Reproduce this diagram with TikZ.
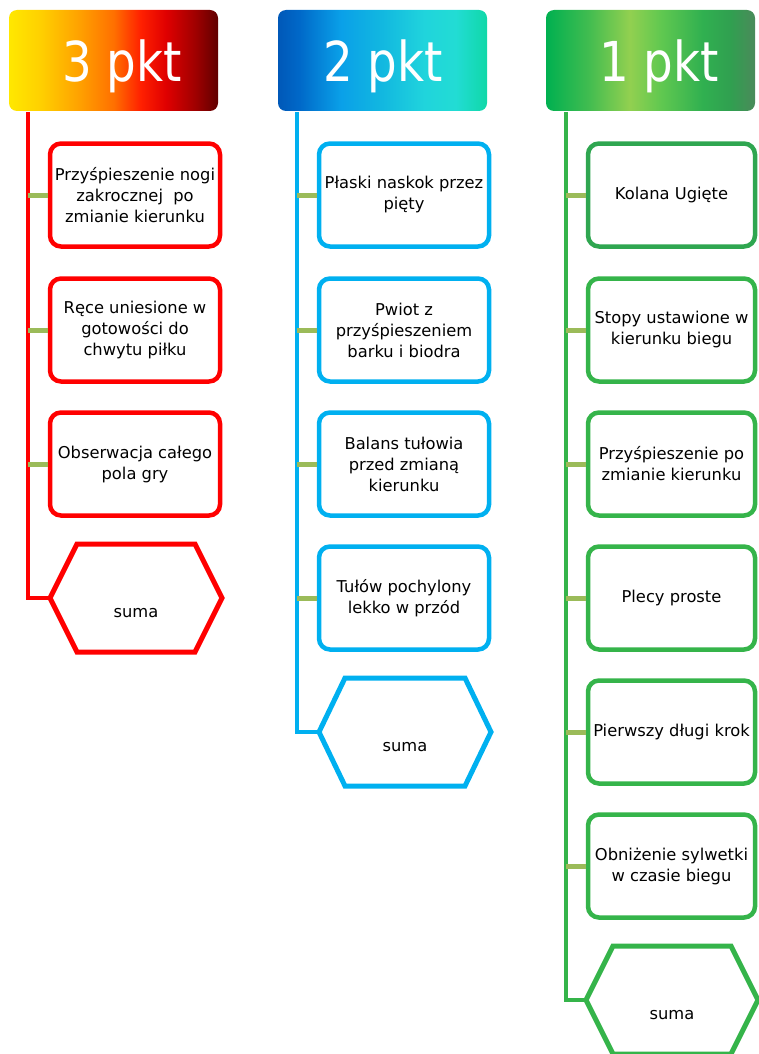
\documentclass[tikz,border=0pt]{standalone}
\usepackage{fontspec}
\setmainfont{DejaVu Sans}
\newfontfamily\headfont[FakeStretch=0.85]{DejaVu Sans}
\usetikzlibrary{calc}
\definecolor{cred}{HTML}{FF0000}
\definecolor{cblue}{HTML}{00B0F0}
\definecolor{cgreen}{HTML}{35B44A}
\definecolor{cgreendk}{HTML}{2FA650}
\definecolor{cconn}{HTML}{9BBB59}
% red header stops
\definecolor{ra}{HTML}{FFE800}
\definecolor{rb}{HTML}{FFD000}
\definecolor{rc}{HTML}{FFA000}
\definecolor{rd}{HTML}{FF7000}
\definecolor{re}{HTML}{FF2000}
\definecolor{rf}{HTML}{E00000}
\definecolor{rg}{HTML}{A00000}
\definecolor{rh}{HTML}{600000}
% blue header stops
\definecolor{ba}{HTML}{0058B8}
\definecolor{bb}{HTML}{0068C8}
\definecolor{bc}{HTML}{0AA0E8}
\definecolor{bd}{HTML}{12B8E0}
\definecolor{be}{HTML}{20D4DC}
\definecolor{bf}{HTML}{22DCD4}
\definecolor{bg}{HTML}{10D8A8}
% green header stops
\definecolor{ga}{HTML}{00B050}
\definecolor{gb}{HTML}{40BC50}
\definecolor{gc}{HTML}{92D050}
\definecolor{gd}{HTML}{60C850}
\definecolor{ge}{HTML}{30B050}
\definecolor{gf}{HTML}{30A050}
\definecolor{gg}{HTML}{4A8A5A}
\pgfdeclarehorizontalshading{gradred}{100bp}{color(0bp)=(ra); color(25bp)=(ra); color(32.5bp)=(rb); color(42bp)=(rc); color(50bp)=(rd); color(56.5bp)=(re); color(62.5bp)=(rf); color(69.5bp)=(rg); color(75bp)=(rh); color(100bp)=(rh)}
\pgfdeclarehorizontalshading{gradblue}{100bp}{color(0bp)=(ba); color(25bp)=(ba); color(30bp)=(bb); color(40bp)=(bc); color(50bp)=(bd); color(60bp)=(be); color(67.5bp)=(bf); color(75bp)=(bg); color(100bp)=(bg)}
\pgfdeclarehorizontalshading{gradgreen}{100bp}{color(0bp)=(ga); color(25bp)=(ga); color(35bp)=(gb); color(45bp)=(gc); color(52.5bp)=(gd); color(62.5bp)=(ge); color(69bp)=(gf); color(75bp)=(gg); color(100bp)=(gg)}
\tikzset{
  hdr/.style={rounded corners=8pt, minimum width=209pt, minimum height=101pt, inner sep=0pt, shade, shading=#1},
  hdrtext/.style={anchor=base, text=white, inner sep=0pt, font=\headfont\fontsize{55}{60}\selectfont},
  itembox/.style={draw=#1, line width=4.5pt, rounded corners=11pt, fill=white, minimum width=170pt, minimum height=103pt, align=center, inner sep=0pt, font=\fontsize{16.3}{21}\selectfont},
  vline/.style={draw=#1, line width=4.5pt},
  conn/.style={draw=cconn, line width=5pt},
  hexline/.style={draw=#1, line width=5pt, fill=white, line join=miter},
  sumtext/.style={inner sep=0pt, font=\fontsize{16.3}{21}\selectfont}
}
\begin{document}
\begin{tikzpicture}[x=1pt,y=-1pt]
\useasboundingbox (0,0) rectangle (758,1054);
% ---------- headers
\node[hdr=gradred] (h1) at (113.5,60.5) {};
\node[hdr=gradblue] (h2) at (382.5,60.5) {};
\node[hdr=gradgreen] (h3) at (650.5,60.5) {};
\node[hdrtext] (t1) at (122,82) {3 pkt};
\node[hdrtext] (t2) at (383,82) {2 pkt};
\node[hdrtext] (t3) at (659,82) {1 pkt};
% ---------- coordinates
\coordinate (v1) at (28,112);
\coordinate (v2) at (297,112);
\coordinate (v3) at (566,112);
\coordinate (s1c) at (136,598);
\coordinate (s2c) at (405,732);
\coordinate (s3c) at (672,1000);
\coordinate (s1w) at ($(s1c)+(-86,0)$);
\coordinate (s2w) at ($(s2c)+(-86,0)$);
\coordinate (s3w) at ($(s3c)+(-86,0)$);
% ---------- vertical lines
\draw[vline=cred] (v1) |- (s1w);
\draw[vline=cblue] (v2) |- (s2w);
\draw[vline=cgreen] (v3) |- (s3w);
% ---------- boxes column 1
\node[itembox=cred] (a1) at (135,195) {Przyśpieszenie nogi\\zakrocznej\ \ po\\zmianie kierunku};
\node[itembox=cred] (a2) at (135,330) {Ręce uniesione w\\gotowości do\\chwytu piłku};
\node[itembox=cred] (a3) at (135,464) {Obserwacja całego\\pola gry};
% ---------- boxes column 2
\node[itembox=cblue] (b1) at (404,195) {Płaski naskok przez\\pięty};
\node[itembox=cblue] (b2) at (404,330) {Pwiot z\\przyśpieszeniem\\barku i biodra};
\node[itembox=cblue] (b3) at (404,464) {Balans tułowia\\przed zmianą\\kierunku};
\node[itembox=cblue] (b4) at (404,598) {Tułów pochylony\\lekko w przód};
% ---------- boxes column 3
\node[itembox=cgreendk, minimum width=167pt] (c1) at (671.5,195) {Kolana Ugięte};
\node[itembox=cgreen, minimum width=167pt] (c2) at (671.5,330) {Stopy ustawione w\\kierunku biegu};
\node[itembox=cgreen, minimum width=167pt] (c3) at (671.5,464) {Przyśpieszenie po\\zmianie kierunku};
\node[itembox=cgreen, minimum width=167pt] (c4) at (671.5,598) {Plecy proste};
\node[itembox=cgreen, minimum width=167pt] (c5) at (671.5,732) {Pierwszy długi krok};
\node[itembox=cgreen, minimum width=167pt] (c6) at (671.5,866) {Obniżenie sylwetki\\w czasie biegu};
% ---------- connectors
\foreach \n in {a1,a2,a3} {\draw[conn] (\n.west -| v1) -- (\n.west);}
\foreach \n in {b1,b2,b3,b4} {\draw[conn] (\n.west -| v2) -- (\n.west);}
\foreach \n in {c1,c2,c3,c4,c5,c6} {\draw[conn] (\n.west -| v3) -- (\n.west);}
% ---------- hexagons
\draw[hexline=cred] (s1w) -- ++(27,-54) -- ++(118,0) -- ++(27,54) -- ++(-27,54) -- ++(-118,0) -- cycle;
\draw[hexline=cblue] (s2w) -- ++(26,-54) -- ++(120,0) -- ++(26,54) -- ++(-26,54) -- ++(-120,0) -- cycle;
\draw[hexline=cgreen] (s3w) -- ++(27,-54) -- ++(118,0) -- ++(27,54) -- ++(-27,54) -- ++(-118,0) -- cycle;
\node[sumtext] (u1) at ($(s1c)+(0,15)$) {suma};
\node[sumtext] (u2) at ($(s2c)+(0,15)$) {suma};
\node[sumtext] (u3) at ($(s3c)+(0,15)$) {suma};
\end{tikzpicture}
\end{document}
